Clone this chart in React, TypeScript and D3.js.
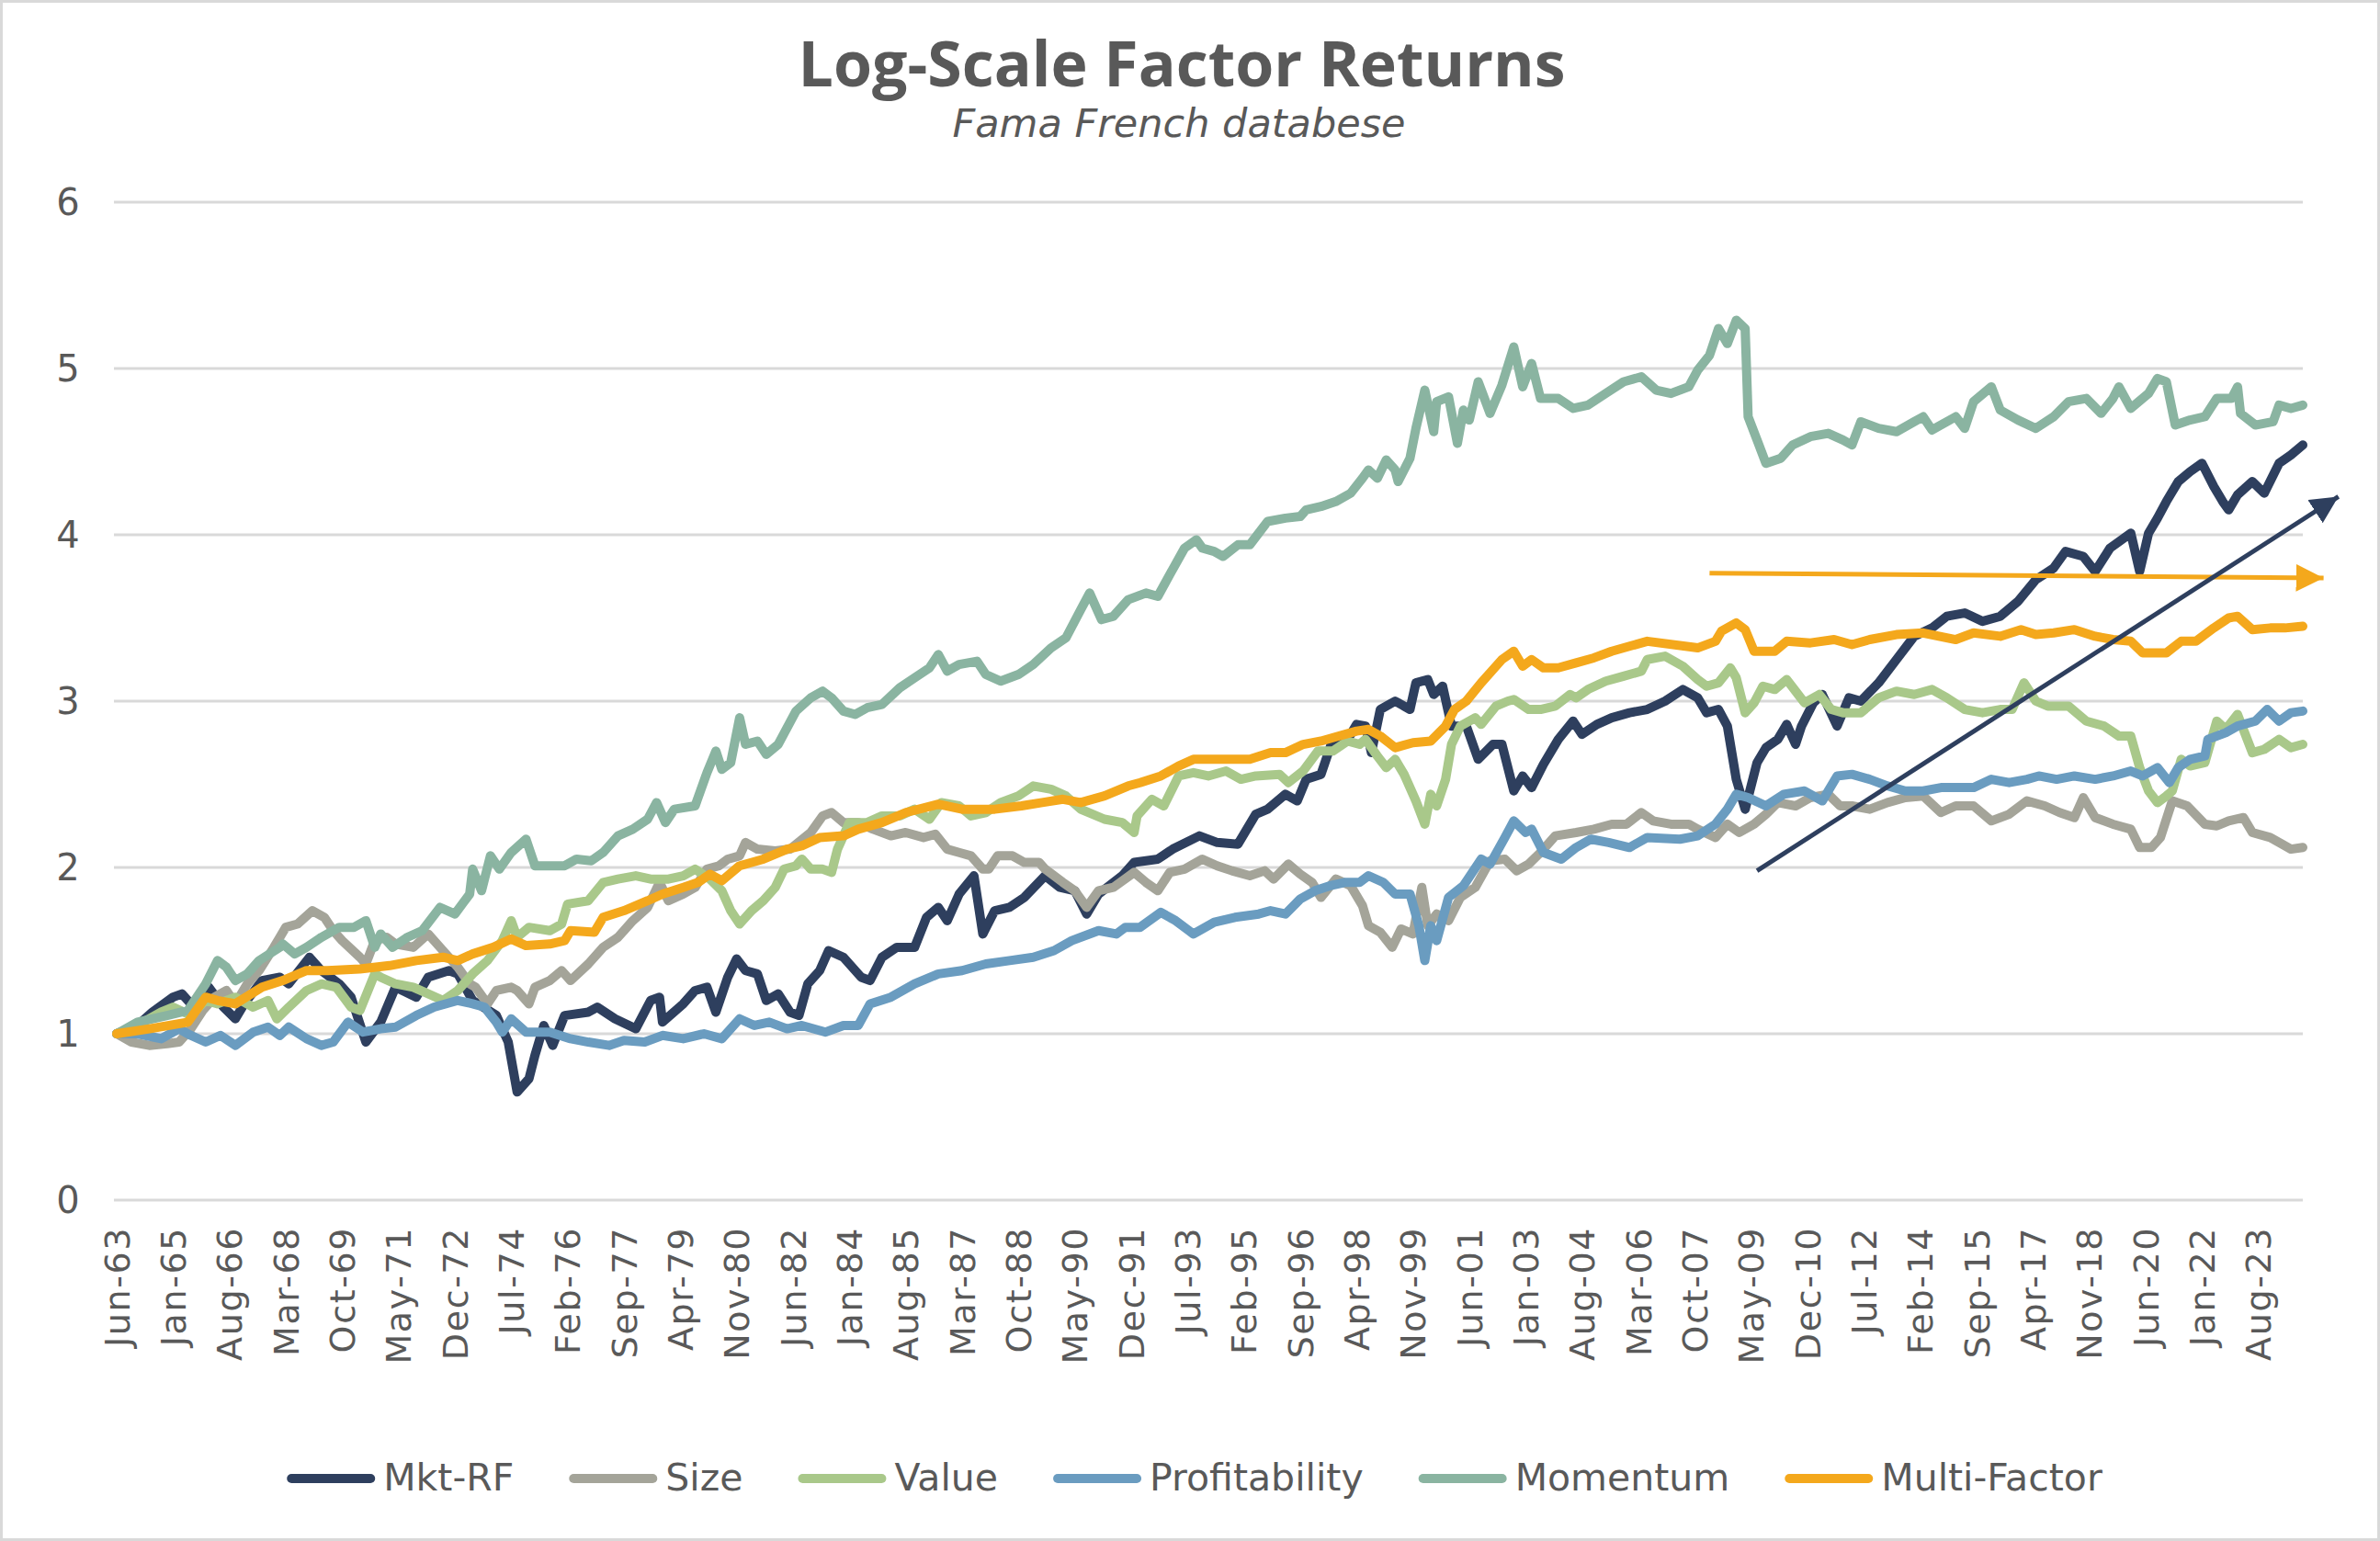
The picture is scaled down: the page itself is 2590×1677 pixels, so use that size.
import React, { useEffect, useRef } from "react";
import * as d3 from "d3";

// x = months since Jun-63, y = log value
const mktRf: [number, number][] = [
  [0, 1.0], [7, 1.05], [12, 1.13], [19, 1.22], [22, 1.24], [26, 1.16], [31, 1.28], [36, 1.16], [40, 1.09],
  [43, 1.18], [49, 1.32], [55, 1.34], [58, 1.3], [65, 1.46], [69, 1.38], [75, 1.3], [79, 1.22], [84, 0.95],
  [89, 1.07], [94, 1.28], [101, 1.22], [105, 1.34], [112, 1.38], [115, 1.36], [120, 1.2], [128, 1.11],
  [132, 0.95], [135, 0.65], [139, 0.73], [141, 0.87], [144, 1.05], [147, 0.93], [151, 1.11], [159, 1.13],
  [162, 1.16], [168, 1.09], [175, 1.03], [180, 1.2], [183, 1.22], [184, 1.07], [191, 1.18], [195, 1.26],
  [199, 1.28], [202, 1.13], [206, 1.34], [209, 1.45], [212, 1.38], [216, 1.36], [219, 1.2], [223, 1.24],
  [227, 1.13], [230, 1.11], [233, 1.3], [237, 1.38], [240, 1.5], [245, 1.46], [251, 1.34], [254, 1.32],
  [258, 1.46], [263, 1.52], [269, 1.52], [273, 1.7], [277, 1.76], [280, 1.68], [284, 1.84], [289, 1.95],
  [292, 1.6], [296, 1.74], [301, 1.76], [306, 1.82], [313, 1.95], [318, 1.88], [323, 1.86], [327, 1.72],
  [331, 1.84], [339, 1.95], [343, 2.03], [351, 2.05], [356, 2.11], [365, 2.19], [371, 2.15], [378, 2.14],
  [384, 2.32], [388, 2.35], [394, 2.44], [398, 2.4], [401, 2.53], [406, 2.56], [410, 2.77], [415, 2.77],
  [418, 2.86], [421, 2.85], [423, 2.69], [426, 2.95], [431, 3.0], [436, 2.95], [438, 3.11], [442, 3.13],
  [444, 3.04], [447, 3.09], [450, 2.85], [455, 2.85], [459, 2.65], [464, 2.74], [467, 2.74], [471, 2.46],
  [474, 2.55], [477, 2.48], [481, 2.62], [486, 2.77], [491, 2.88], [494, 2.8], [499, 2.86], [504, 2.9],
  [510, 2.93], [516, 2.95], [522, 3.0], [528, 3.07], [533, 3.02], [536, 2.93], [540, 2.95], [543, 2.85],
  [546, 2.53], [549, 2.35], [551, 2.49], [553, 2.63], [556, 2.72], [560, 2.77], [563, 2.86], [566, 2.74],
  [568, 2.85], [572, 2.99], [575, 3.04], [580, 2.85], [584, 3.02], [588, 3.0], [594, 3.11], [600, 3.25],
  [606, 3.39], [612, 3.44], [617, 3.51], [623, 3.53], [629, 3.48], [635, 3.51], [641, 3.6], [647, 3.73],
  [653, 3.8], [657, 3.9], [663, 3.87], [667, 3.78], [672, 3.92], [679, 4.01], [682, 3.78], [685, 4.01],
  [688, 4.1], [691, 4.2], [695, 4.32], [699, 4.38], [703, 4.43], [707, 4.29], [710, 4.2], [712, 4.15],
  [715, 4.24], [720, 4.32], [724, 4.25], [729, 4.43], [733, 4.48], [737, 4.54],
];

const size: [number, number][] = [
  [0, 1.0], [5, 0.95], [11, 0.93], [17, 0.94], [21, 0.95], [25, 1.03], [29, 1.14], [33, 1.22], [37, 1.26],
  [40, 1.18], [44, 1.3], [48, 1.38], [53, 1.52], [57, 1.64], [61, 1.66], [66, 1.74], [70, 1.7], [73, 1.62],
  [76, 1.56], [82, 1.46], [84, 1.42], [87, 1.56], [91, 1.58], [94, 1.54], [100, 1.52], [105, 1.6], [110, 1.5],
  [115, 1.4], [119, 1.3], [121, 1.28], [125, 1.18], [128, 1.26], [133, 1.28], [135, 1.26], [139, 1.18],
  [141, 1.28], [146, 1.32], [150, 1.38], [153, 1.32], [159, 1.42], [164, 1.52], [169, 1.58], [174, 1.68],
  [179, 1.76], [183, 1.91], [186, 1.8], [191, 1.84], [195, 1.88], [199, 1.99], [203, 2.01], [206, 2.05],
  [210, 2.07], [212, 2.15], [216, 2.11], [222, 2.1], [227, 2.11], [234, 2.21], [238, 2.31], [241, 2.33],
  [245, 2.27], [250, 2.27], [255, 2.23], [261, 2.19], [266, 2.21], [272, 2.18], [276, 2.2], [280, 2.11],
  [284, 2.09], [288, 2.07], [292, 1.99], [294, 1.99], [297, 2.07], [302, 2.07], [306, 2.03], [311, 2.03],
  [313, 1.99], [319, 1.91], [323, 1.86], [327, 1.76], [331, 1.86], [336, 1.88], [343, 1.97], [347, 1.91],
  [351, 1.86], [355, 1.97], [360, 1.99], [366, 2.05], [371, 2.01], [376, 1.98], [382, 1.95], [387, 1.98],
  [390, 1.93], [395, 2.02], [399, 1.96], [403, 1.91], [406, 1.82], [411, 1.93], [416, 1.89], [420, 1.77],
  [422, 1.65], [426, 1.61], [430, 1.52], [433, 1.63], [437, 1.6], [440, 1.88], [442, 1.65], [445, 1.72],
  [449, 1.68], [453, 1.82], [458, 1.88], [463, 2.04], [468, 2.05], [472, 1.98], [476, 2.02], [480, 2.09],
  [485, 2.19], [492, 2.21], [498, 2.23], [504, 2.26], [509, 2.26], [514, 2.33], [518, 2.28], [524, 2.26],
  [530, 2.26], [533, 2.23], [539, 2.18], [543, 2.26], [547, 2.21], [552, 2.26], [556, 2.32], [560, 2.39],
  [566, 2.37], [571, 2.42], [577, 2.44], [581, 2.37], [585, 2.37], [591, 2.35], [597, 2.39], [603, 2.42],
  [609, 2.43], [615, 2.33], [620, 2.37], [626, 2.37], [632, 2.28], [638, 2.32], [644, 2.4], [650, 2.37],
  [655, 2.33], [660, 2.3], [663, 2.42], [667, 2.3], [673, 2.26], [679, 2.23], [682, 2.12], [686, 2.12],
  [689, 2.18], [693, 2.4], [698, 2.37], [704, 2.26], [708, 2.25], [712, 2.28], [717, 2.3], [720, 2.21],
  [726, 2.18], [730, 2.14], [733, 2.11], [737, 2.12],
];

const value: [number, number][] = [
  [0, 1.0], [7, 1.05], [15, 1.13], [19, 1.16], [25, 1.11], [30, 1.2], [34, 1.18], [40, 1.22], [46, 1.16],
  [51, 1.2], [54, 1.09], [58, 1.16], [64, 1.26], [69, 1.3], [74, 1.28], [79, 1.16], [82, 1.14], [87, 1.36],
  [89, 1.34], [94, 1.3], [100, 1.28], [105, 1.24], [110, 1.2], [115, 1.26], [120, 1.36], [125, 1.44],
  [130, 1.56], [133, 1.68], [135, 1.58], [139, 1.64], [146, 1.62], [150, 1.66], [152, 1.78], [159, 1.8],
  [164, 1.91], [169, 1.93], [175, 1.95], [180, 1.93], [186, 1.93], [191, 1.95], [195, 1.99], [200, 1.93],
  [204, 1.86], [207, 1.74], [210, 1.66], [214, 1.74], [218, 1.8], [222, 1.88], [225, 1.99], [229, 2.01],
  [231, 2.05], [234, 1.99], [238, 1.99], [241, 1.97], [243, 2.11], [247, 2.27], [253, 2.27], [258, 2.31],
  [264, 2.31], [269, 2.35], [274, 2.29], [278, 2.39], [284, 2.37], [288, 2.31], [293, 2.33], [298, 2.39],
  [304, 2.43], [309, 2.49], [315, 2.47], [320, 2.43], [325, 2.35], [333, 2.29], [339, 2.27], [343, 2.21],
  [344, 2.31], [349, 2.41], [353, 2.37], [358, 2.55], [363, 2.57], [368, 2.55], [374, 2.58], [379, 2.53],
  [384, 2.55], [392, 2.56], [395, 2.51], [400, 2.58], [405, 2.7], [410, 2.7], [415, 2.76], [419, 2.74],
  [421, 2.77], [425, 2.67], [428, 2.6], [431, 2.65], [434, 2.56], [438, 2.4], [441, 2.26], [443, 2.44],
  [445, 2.37], [448, 2.53], [450, 2.74], [453, 2.85], [458, 2.9], [460, 2.86], [465, 2.97], [469, 3.0],
  [471, 3.01], [476, 2.95], [480, 2.95], [485, 2.97], [490, 3.04], [492, 3.02], [496, 3.07], [502, 3.12],
  [508, 3.15], [514, 3.18], [516, 3.25], [522, 3.27], [528, 3.21], [533, 3.13], [536, 3.09], [540, 3.11],
  [544, 3.2], [546, 3.14], [549, 2.93], [552, 2.99], [555, 3.09], [559, 3.07], [563, 3.13], [566, 3.06],
  [569, 2.99], [574, 3.04], [578, 2.95], [582, 2.93], [588, 2.93], [594, 3.02], [600, 3.06], [606, 3.04],
  [612, 3.07], [617, 3.02], [623, 2.95], [629, 2.93], [635, 2.95], [639, 2.95], [643, 3.11], [647, 3.0],
  [651, 2.97], [658, 2.97], [664, 2.88], [670, 2.85], [675, 2.79], [679, 2.79], [682, 2.6], [685, 2.46],
  [688, 2.39], [691, 2.43], [693, 2.46], [696, 2.65], [699, 2.61], [704, 2.63], [708, 2.88], [711, 2.83],
  [715, 2.92], [720, 2.69], [724, 2.71], [729, 2.77], [733, 2.72], [737, 2.74],
];

const profitability: [number, number][] = [
  [0, 1.0], [7, 1.0], [15, 0.97], [21, 1.03], [25, 0.99], [30, 0.95], [35, 0.99], [40, 0.93], [46, 1.01],
  [51, 1.04], [55, 0.99], [58, 1.04], [64, 0.97], [69, 0.93], [73, 0.95], [78, 1.07], [83, 1.01], [89, 1.03],
  [94, 1.04], [101, 1.11], [107, 1.16], [115, 1.2], [120, 1.18], [124, 1.16], [128, 1.07], [130, 1.01],
  [133, 1.09], [138, 1.01], [146, 1.01], [153, 0.97], [159, 0.95], [166, 0.93], [171, 0.96], [178, 0.95],
  [184, 0.99], [191, 0.97], [198, 1.0], [204, 0.97], [210, 1.09], [215, 1.05], [220, 1.07], [226, 1.03],
  [231, 1.05], [239, 1.01], [245, 1.05], [250, 1.05], [254, 1.18], [261, 1.22], [269, 1.3], [277, 1.36],
  [285, 1.38], [293, 1.42], [301, 1.44], [309, 1.46], [316, 1.5], [322, 1.56], [331, 1.62], [337, 1.6],
  [340, 1.64], [345, 1.64], [352, 1.73], [357, 1.68], [363, 1.6], [370, 1.67], [377, 1.7], [385, 1.72],
  [389, 1.74], [394, 1.72], [399, 1.81], [404, 1.86], [409, 1.89], [414, 1.91], [419, 1.91], [422, 1.95],
  [427, 1.91], [431, 1.84], [436, 1.84], [439, 1.65], [441, 1.44], [443, 1.65], [445, 1.56], [449, 1.82],
  [454, 1.89], [460, 2.05], [463, 2.02], [468, 2.18], [471, 2.28], [475, 2.21], [477, 2.23], [481, 2.09],
  [487, 2.05], [492, 2.12], [497, 2.17], [503, 2.15], [510, 2.12], [516, 2.18], [527, 2.17], [533, 2.19],
  [539, 2.26], [543, 2.35], [546, 2.44], [550, 2.42], [556, 2.37], [562, 2.44], [569, 2.46], [575, 2.4],
  [580, 2.55], [585, 2.56], [591, 2.53], [597, 2.49], [603, 2.46], [609, 2.46], [615, 2.48], [620, 2.48],
  [626, 2.48], [632, 2.53], [638, 2.51], [644, 2.53], [648, 2.55], [654, 2.53], [660, 2.55], [667, 2.53],
  [673, 2.55], [679, 2.58], [683, 2.55], [688, 2.6], [692, 2.51], [695, 2.6], [699, 2.65], [704, 2.67],
  [705, 2.77], [711, 2.81], [715, 2.85], [721, 2.88], [725, 2.95], [729, 2.88], [733, 2.93], [737, 2.94],
];

const momentum: [number, number][] = [
  [0, 1.0], [7, 1.07], [17, 1.11], [24, 1.14], [30, 1.3], [34, 1.44], [37, 1.4], [40, 1.32], [44, 1.36],
  [48, 1.44], [55, 1.52], [56, 1.54], [60, 1.48], [64, 1.52], [69, 1.58], [75, 1.64], [80, 1.64], [84, 1.68],
  [87, 1.52], [89, 1.6], [93, 1.52], [98, 1.58], [103, 1.62], [109, 1.76], [114, 1.72], [119, 1.84],
  [120, 1.99], [123, 1.86], [126, 2.07], [129, 1.99], [133, 2.09], [138, 2.17], [141, 2.01], [146, 2.01],
  [151, 2.01], [155, 2.05], [160, 2.04], [164, 2.09], [169, 2.19], [174, 2.23], [179, 2.29], [182, 2.39],
  [185, 2.27], [188, 2.35], [195, 2.37], [199, 2.57], [202, 2.7], [204, 2.59], [207, 2.63], [210, 2.9],
  [212, 2.74], [216, 2.76], [219, 2.68], [223, 2.74], [229, 2.94], [234, 3.02], [238, 3.06], [241, 3.02],
  [245, 2.94], [249, 2.92], [253, 2.96], [258, 2.98], [264, 3.08], [269, 3.14], [274, 3.2], [277, 3.28],
  [280, 3.18], [284, 3.22], [290, 3.24], [293, 3.16], [298, 3.12], [304, 3.16], [309, 3.22], [315, 3.32],
  [320, 3.38], [325, 3.55], [328, 3.65], [332, 3.49], [336, 3.51], [341, 3.61], [347, 3.65], [351, 3.63],
  [355, 3.76], [360, 3.92], [364, 3.97], [366, 3.92], [370, 3.9], [373, 3.87], [378, 3.94], [382, 3.94],
  [388, 4.08], [394, 4.1], [399, 4.11], [401, 4.15], [406, 4.17], [411, 4.2], [416, 4.25], [420, 4.34],
  [422, 4.39], [425, 4.34], [428, 4.45], [431, 4.39], [432, 4.32], [436, 4.46], [438, 4.64], [441, 4.87],
  [444, 4.62], [445, 4.8], [449, 4.83], [452, 4.55], [454, 4.75], [456, 4.69], [459, 4.92], [463, 4.73],
  [467, 4.9], [471, 5.13], [474, 4.89], [477, 5.03], [480, 4.82], [486, 4.82], [491, 4.76], [496, 4.78],
  [502, 4.85], [508, 4.92], [514, 4.95], [519, 4.87], [524, 4.85], [530, 4.89], [533, 4.99], [537, 5.08],
  [540, 5.24], [543, 5.15], [546, 5.29], [549, 5.24], [550, 4.71], [553, 4.57], [556, 4.43], [561, 4.46],
  [565, 4.54], [571, 4.59], [577, 4.61], [582, 4.57], [585, 4.54], [588, 4.68], [594, 4.64], [600, 4.62],
  [606, 4.68], [609, 4.71], [612, 4.63], [620, 4.71], [623, 4.64], [626, 4.8], [632, 4.89], [635, 4.75],
  [641, 4.69], [647, 4.64], [653, 4.71], [658, 4.8], [664, 4.82], [669, 4.73], [673, 4.82], [675, 4.89],
  [679, 4.76], [685, 4.85], [688, 4.94], [691, 4.92], [694, 4.66], [699, 4.69], [704, 4.71], [708, 4.82],
  [713, 4.82], [715, 4.89], [716, 4.73], [721, 4.66], [727, 4.68], [729, 4.78], [733, 4.76], [737, 4.78],
];

const multiFactor: [number, number][] = [
  [0, 1.0], [11, 1.03], [24, 1.07], [30, 1.22], [34, 1.2], [40, 1.18], [49, 1.28], [56, 1.32], [64, 1.38],
  [71, 1.38], [82, 1.39], [92, 1.41], [101, 1.44], [110, 1.46], [115, 1.44], [120, 1.48], [127, 1.52],
  [133, 1.57], [138, 1.53], [146, 1.54], [151, 1.56], [153, 1.62], [161, 1.61], [164, 1.7], [171, 1.74],
  [179, 1.8], [184, 1.84], [191, 1.88], [196, 1.91], [200, 1.96], [204, 1.92], [210, 2.01], [218, 2.05],
  [226, 2.11], [231, 2.13], [237, 2.18], [245, 2.19], [250, 2.23], [258, 2.27], [266, 2.33], [277, 2.38],
  [285, 2.35], [296, 2.35], [305, 2.37], [312, 2.39], [319, 2.41], [325, 2.39], [333, 2.43], [341, 2.49],
  [345, 2.51], [352, 2.55], [358, 2.61], [363, 2.65], [370, 2.65], [382, 2.65], [389, 2.69], [394, 2.69],
  [400, 2.74], [406, 2.76], [412, 2.79], [418, 2.82], [422, 2.83], [426, 2.79], [431, 2.72], [437, 2.75],
  [443, 2.76], [448, 2.85], [451, 2.95], [455, 3.0], [460, 3.11], [465, 3.21], [467, 3.25], [471, 3.3],
  [474, 3.21], [477, 3.25], [481, 3.2], [486, 3.2], [492, 3.23], [498, 3.26], [504, 3.3], [510, 3.33],
  [516, 3.36], [533, 3.32], [539, 3.36], [541, 3.42], [546, 3.47], [549, 3.43], [552, 3.3], [559, 3.3],
  [563, 3.36], [571, 3.35], [579, 3.37], [585, 3.34], [591, 3.37], [600, 3.4], [609, 3.41], [620, 3.37],
  [626, 3.41], [635, 3.39], [642, 3.43], [647, 3.4], [653, 3.41], [660, 3.43], [667, 3.39], [673, 3.37],
  [679, 3.36], [683, 3.29], [691, 3.29], [696, 3.36], [701, 3.36], [707, 3.44], [712, 3.5], [715, 3.51],
  [720, 3.43], [726, 3.44], [731, 3.44], [737, 3.45],
];

const seriesNames = ["Mkt-RF", "Size", "Value", "Profitability", "Momentum", "Multi-Factor"];
const seriesColors = ["#2e3f5e", "#a4a499", "#a9c88a", "#6a9cc0", "#8ab4a1", "#f4a81c"];
const seriesData = [mktRf, size, value, profitability, momentum, multiFactor];

const xTickLabels = [
  "Jun-63", "Jan-65", "Aug-66", "Mar-68", "Oct-69", "May-71", "Dec-72", "Jul-74", "Feb-76", "Sep-77",
  "Apr-79", "Nov-80", "Jun-82", "Jan-84", "Aug-85", "Mar-87", "Oct-88", "May-90", "Dec-91", "Jul-93",
  "Feb-95", "Sep-96", "Apr-98", "Nov-99", "Jun-01", "Jan-03", "Aug-04", "Mar-06", "Oct-07", "May-09",
  "Dec-10", "Jul-12", "Feb-14", "Sep-15", "Apr-17", "Nov-18", "Jun-20", "Jan-22", "Aug-23",
];
const yTicks = [0, 1, 2, 3, 4, 5, 6];

// annotation arrows, [months since Jun-63, value]
const arrowNotes = [
  { from: [537, 3.77], to: [744, 3.74], color: "#f4a81c" },
  { from: [553, 1.98], to: [749, 4.23], color: "#2e3f5e" },
];

const MONTHS = ["Jan", "Feb", "Mar", "Apr", "May", "Jun", "Jul", "Aug", "Sep", "Oct", "Nov", "Dec"];
const labelToIndex = (label: string) => {
  const [mon, yy] = label.split("-");
  const yr = +yy >= 50 ? 1900 + +yy : 2000 + +yy;
  return (yr - 1963) * 12 + MONTHS.indexOf(mon) - 5;
};

const W = 2590;
const H = 1677;
const TEXT = "#595959";
const FONT = "'DejaVu Sans', sans-serif";

export default function App() {
  const svgRef = useRef<SVGSVGElement | null>(null);

  useEffect(() => {
    document.body.style.margin = "0";
    if (!svgRef.current) return;
    const svg = d3.select(svgRef.current);
    svg.selectAll("*").remove();

    const x = d3.scaleLinear().domain([0, 737]).range([127, 2506]);
    const y = d3.scaleLinear().domain([0, 6]).range([1306, 220]);

    svg.append("rect").attr("width", W).attr("height", H).attr("fill", "#fff");
    svg
      .append("rect")
      .attr("x", 1.5)
      .attr("y", 1.5)
      .attr("width", W - 3)
      .attr("height", H - 3)
      .attr("fill", "none")
      .attr("stroke", "#d9d9d9")
      .attr("stroke-width", 3);

    // title
    svg
      .append("text")
      .attr("x", 1286)
      .attr("y", 94)
      .attr("text-anchor", "middle")
      .attr("font-family", "'Open Sans', sans-serif")
      .attr("font-weight", 700)
      .attr("font-size", 68)
      .attr("fill", TEXT)
      .text("Log-Scale Factor Returns");
    svg
      .append("text")
      .attr("x", 1283)
      .attr("y", 149)
      .attr("text-anchor", "middle")
      .attr("font-family", FONT)
      .attr("font-style", "italic")
      .attr("font-size", 43)
      .attr("fill", TEXT)
      .text("Fama French databese");

    // grid + y labels
    const grid = svg.append("g");
    grid
      .selectAll("line")
      .data(yTicks)
      .enter()
      .append("line")
      .attr("x1", 124)
      .attr("x2", 2506)
      .attr("y1", (d) => y(d))
      .attr("y2", (d) => y(d))
      .attr("stroke", "#d9d9d9")
      .attr("stroke-width", 3);
    grid
      .selectAll("text")
      .data(yTicks)
      .enter()
      .append("text")
      .attr("x", 74)
      .attr("y", (d) => y(d))
      .attr("dy", "0.36em")
      .attr("text-anchor", "middle")
      .attr("font-family", FONT)
      .attr("font-size", 40)
      .attr("fill", TEXT)
      .text((d) => d);

    // x labels
    svg
      .append("g")
      .selectAll("text")
      .data(xTickLabels)
      .enter()
      .append("text")
      .attr("transform", (d) => `translate(${x(labelToIndex(d))},1335) rotate(-90)`)
      .attr("dy", "0.36em")
      .attr("text-anchor", "end")
      .attr("font-family", FONT)
      .attr("font-size", 38)
      .attr("letter-spacing", 1.6)
      .attr("fill", TEXT)
      .text((d) => d);

    // series
    const line = d3
      .line<[number, number]>()
      .x((d) => x(d[0]))
      .y((d) => y(d[1]));
    svg
      .append("g")
      .selectAll("path")
      .data(seriesData)
      .enter()
      .append("path")
      .attr("d", (d) => line(d))
      .attr("fill", "none")
      .attr("stroke", (_, i) => seriesColors[i])
      .attr("stroke-width", 10)
      .attr("stroke-linejoin", "round")
      .attr("stroke-linecap", "round");

    // arrows
    const defs = svg.append("defs");
    arrowNotes.forEach((a, i) => {
      defs
        .append("marker")
        .attr("id", `arrow${i}`)
        .attr("markerUnits", "userSpaceOnUse")
        .attr("markerWidth", 32)
        .attr("markerHeight", 30)
        .attr("refX", 30)
        .attr("refY", 15)
        .attr("orient", "auto")
        .append("path")
        .attr("d", "M0,0 L30,15 L0,30 Z")
        .attr("fill", a.color);
      svg
        .append("line")
        .attr("x1", x(a.from[0]))
        .attr("y1", y(a.from[1]))
        .attr("x2", x(a.to[0]))
        .attr("y2", y(a.to[1]))
        .attr("stroke", a.color)
        .attr("stroke-width", 5)
        .attr("marker-end", `url(#arrow${i})`);
    });

    // legend
    const legend = svg.append("g");
    const items = seriesNames.map((name, i) => {
      const g = legend.append("g");
      g.append("line")
        .attr("x1", 5)
        .attr("x2", 91)
        .attr("y1", 0)
        .attr("y2", 0)
        .attr("stroke", seriesColors[i])
        .attr("stroke-width", 10)
        .attr("stroke-linecap", "round");
      const t = g
        .append("text")
        .attr("x", 105)
        .attr("y", 13)
        .attr("font-family", FONT)
        .attr("font-size", 41)
        .attr("fill", TEXT)
        .text(name);
      const w = (t.node() as SVGTextElement).getComputedTextLength();
      return { g, w: 105 + w };
    });
    const gap = 60;
    const total = d3.sum(items, (d) => d.w) + gap * (items.length - 1);
    let cx = 1300 - total / 2;
    items.forEach((it) => {
      it.g.attr("transform", `translate(${cx},1609)`);
      cx += it.w + gap;
    });
  }, []);

  return <svg ref={svgRef} width={W} height={H} style={{ display: "block" }} />;
}
